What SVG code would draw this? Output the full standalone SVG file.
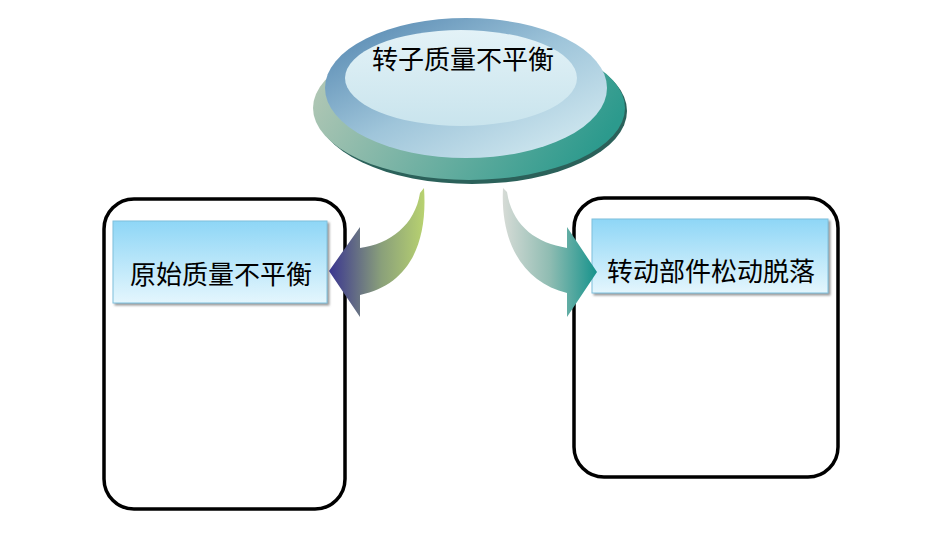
<svg xmlns="http://www.w3.org/2000/svg" width="931" height="553" viewBox="0 0 931 553">
<defs>
<linearGradient id="baseG" x1="0" y1="0.2" x2="1" y2="0.5">
<stop offset="0" stop-color="#b7c9b6"/>
<stop offset="0.45" stop-color="#78b3a5"/>
<stop offset="1" stop-color="#2c9a8d"/>
</linearGradient>
<linearGradient id="topG" x1="0.1" y1="0.1" x2="0.9" y2="0.9">
<stop offset="0" stop-color="#5e8fb6"/>
<stop offset="0.5" stop-color="#9fc5da"/>
<stop offset="1" stop-color="#cfe7ef"/>
</linearGradient>
<linearGradient id="hiG" x1="0" y1="0" x2="0" y2="1">
<stop offset="0" stop-color="#e3f2f7"/>
<stop offset="1" stop-color="#c9e4ed"/>
</linearGradient>
<linearGradient id="labelG" x1="0" y1="0" x2="0" y2="1">
<stop offset="0" stop-color="#8ed6f6"/>
<stop offset="1" stop-color="#e4f6fd"/>
</linearGradient>
<linearGradient id="arrowL" x1="0" y1="0" x2="1" y2="0" gradientUnits="objectBoundingBox">
<stop offset="0" stop-color="#3a3590"/>
<stop offset="0.55" stop-color="#8aa07a"/>
<stop offset="1" stop-color="#b8d270"/>
</linearGradient>
<linearGradient id="arrowR" x1="0" y1="0" x2="1" y2="0" gradientUnits="objectBoundingBox">
<stop offset="0" stop-color="#d6dbd6"/>
<stop offset="0.5" stop-color="#8fbcb2"/>
<stop offset="1" stop-color="#16938c"/>
</linearGradient>
<filter id="sh" x="-10%" y="-10%" width="130%" height="130%">
<feDropShadow dx="2" dy="2" stdDeviation="0.8" flood-color="#808080" flood-opacity="0.8"/>
</filter>
</defs>
<style>
.box{fill:#ffffff;stroke:#000000;stroke-width:3.5}
.label{fill:url(#labelG);stroke:#7fc0dc;stroke-width:1;filter:url(#sh)}
.t{font-family:"Liberation Serif","Noto Sans CJK SC",serif;fill:#000000;text-anchor:middle}
</style>
<rect width="931" height="553" fill="#ffffff"/>

<g id="root-node">
<ellipse cx="472" cy="111" rx="155" ry="73" fill="#2b615a"/>
<ellipse cx="469" cy="108" rx="156" ry="72" fill="url(#baseG)"/>
<ellipse cx="466" cy="88" rx="141" ry="70" fill="url(#topG)"/>
<ellipse cx="461" cy="78" rx="116" ry="48" fill="url(#hiG)"/>
<text class="t" x="463" y="69" font-size="26">转子质量不平衡</text>
</g>

<g id="left-node">
<rect class="box" x="104" y="199" width="241" height="310" rx="30"/>
<rect class="label" x="113" y="221" width="214" height="82"/>
<text class="t" x="221" y="284" font-size="26">原始质量不平衡</text>
</g>

<g id="right-node">
<rect class="box" x="574" y="198" width="264" height="279" rx="30"/>
<rect class="label" x="592" y="219" width="236" height="74"/>
<text class="t" x="711" y="281" font-size="26">转动部件松动脱落</text>
</g>

<g id="connectors">
<path d="M420,193 C415,225 390,244 360,248 L360,227 L329,271 L360,317 L360,295 C408,285 428,245 424,188 Z" fill="url(#arrowL)"/>
<path d="M507,192 C512,225 535,243 567,248 L567,227 L597,272 L567,317 L567,293 C525,283 500,245 503,188 Z" fill="url(#arrowR)"/>
</g>
</svg>
